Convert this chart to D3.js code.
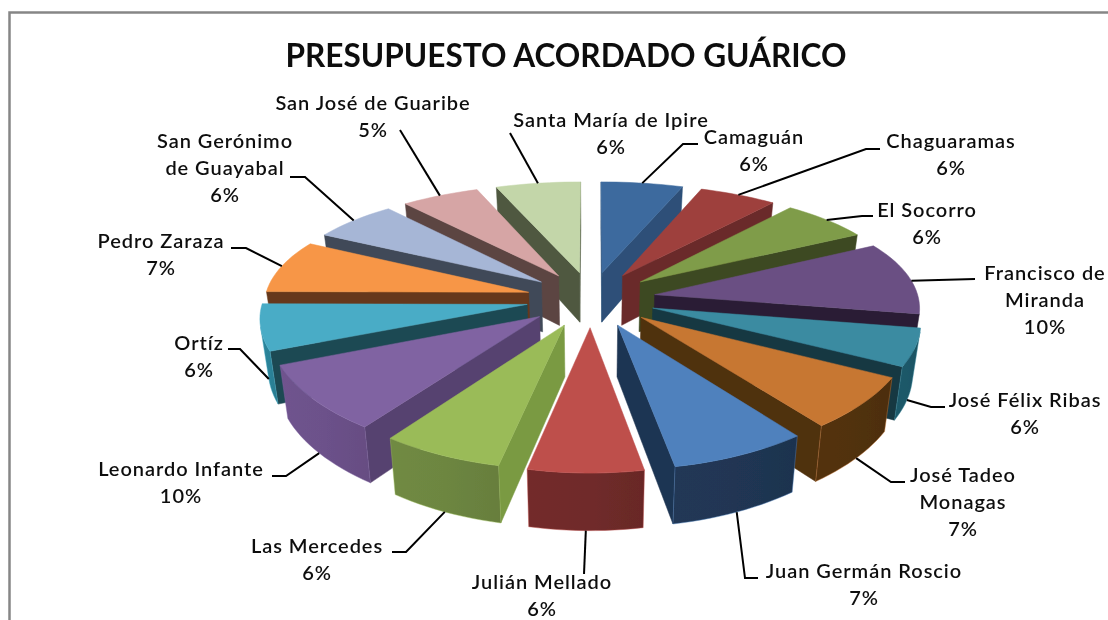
<!DOCTYPE html>
<html><head><meta charset="utf-8">
<script src="https://cdn.jsdelivr.net/npm/d3@7/dist/d3.min.js"></script>
<style>html,body{margin:0;padding:0;background:#fff;overflow:hidden}svg{display:block}
text{font-family:Lato,"Open Sans",sans-serif;fill:#111}</style></head><body>
<svg id="c" width="1108" height="620"></svg>
<script>
const title = "PRESUPUESTO ACORDADO GUÁRICO";
const municipios = ["Camaguán","Chaguaramas","El Socorro","Francisco de Miranda","José Félix Ribas","José Tadeo Monagas","Juan Germán Roscio","Julián Mellado","Las Mercedes","Leonardo Infante","Ortíz","Pedro Zaraza","San Gerónimo de Guayabal","San José de Guaribe","Santa María de Ipire"];
// printed percentages
const porcentajes = [6,6,6,10,6,7,7,6,6,10,6,7,6,5,6];
// wedge shares as they appear in the picture (3D view distorts the angles)
const presupuesto = [5.6,5.35,6.25,10.5,5.1,6.9,7.4,6.25,6.55,8.8,6.4,7.7,6,5.4,5.8];
const topColors  = ["#3D6A9E","#9E413E","#7F9C49","#6A5083","#3A8BA1","#C77732","#4F81BD","#BE4F4C","#9ABB59","#8064A2","#4AACC6","#F79646","#A6B6D6","#D6A5A5","#C3D6A9"];
const sideColors = ["#2D5078","#6A2C2A","#3D4A21","#2A1F35","#173843","#50300F","#1F3552","#7A2F2E","#7A9A43","#57426F","#1E4853","#66381A","#414A58","#5C4543","#4F5941"];
const arcColors  = ["#2D5078","#6A2C2A","#3D4A21","#2A1F35","#1E5666","#50300F","#1F3552","#6E2A29","#6B8440","#6A5088","#2A8095","#66381A","#414A58","#5C4543","#4F5941"];
const labelLines = [["Camaguán"],["Chaguaramas"],["El Socorro"],["Francisco de","Miranda"],["José Félix Ribas"],["José Tadeo","Monagas"],["Juan Germán Roscio"],["Julián Mellado"],["Las Mercedes"],["Leonardo Infante"],["Ortíz"],["Pedro Zaraza"],["San Gerónimo","de Guayabal"],["San José de Guaribe"],["Santa María de Ipire"]];
const labelX = [754,951,927,1045,1025,963,864,542,317,181,199,161,225,373,611];
const labelY = [144,148,217,280,407,482,578,589,553,476,350,248,148,110,127];
const leaderFrac = [.5,.5,.5,.55,.5,.5,.5,.5,.5,.5,.5,.5,.5,.5,.5];
const leaderRim  = [0,0,0,0,1,1,1,1,1,1,1,0,0,0,0];
const leaderBends = [[[683,144],[698,144]],[[866,149],[880,149]],[[862,216],[873,216]],[[975,279]],[[931,407],[945,407]],[[891,482],[905,482]],[[745,578],[758,578]],[[584,574]],[[406,552],[392,552]],[[286,476],[272,476]],[[240,349],[228,349]],[[246,248],[231,248]],[[305,177],[290,177]],[[400,130]],[[510,133]]];

const cx=591, cy=299, R0=264, tilt=112.6, perspY=.156, perspX=.1, explode=.245, wallH=50.5, shrink=.025;
const svg=d3.select("#c");
const defs=svg.append("defs");
defs.append("filter").attr("id","soft").attr("x",0).attr("y",0).attr("width","100%").attr("height","100%")
  .append("feGaussianBlur").attr("stdDeviation",.4);
const root=svg.append("g").attr("filter","url(#soft)");
root.append("rect").attr("width",1108).attr("height",620).attr("fill","#fff");
root.append("path").attr("d","M9.5,621V12.5H1109").attr("fill","none").attr("stroke","#868686").attr("stroke-width",2.5);
root.append("text").attr("x",566).attr("y",67).attr("text-anchor","middle").attr("font-size",31.6).attr("font-weight",700).text(title);

function P(X,Y,z){const zs=1-shrink*z;
  return [cx+R0*X/(1+perspX*Y)*zs, cy-tilt*Y/(1+perspY*Y)+z*wallH/(1+.1*Y)];}
const pie=d3.pie().sort(null).value(d=>d)(presupuesto);
const line=d3.line();
const slices=pie.map((s,i)=>{
  const m=(s.startAngle+s.endAngle)/2, ox=explode*Math.sin(m), oy=explode*Math.cos(m);
  const at=(r,a,z)=>P(ox+r*Math.sin(a),oy+r*Math.cos(a),z);
  return {i,s,m,at,depth:oy+.6*Math.cos(m)};
}).sort((a,b)=>b.depth-a.depth);
const gWalls=root.append("g");
slices.forEach(sl=>{
  const {i,s,at}=sl, g=gWalls.append("g");
  const a0=s.startAngle,a1=s.endAngle;
  const quad=(p,q)=>[p(0),q(0),q(1),p(1)];
  const apex=z=>at(0,0,z);
  [quad(apex,z=>at(1,a0,z)),quad(z=>at(1,a1,z),apex)].filter(q=>d3.polygonArea(q)>0).forEach(q=>{
    g.append("path").attr("d",line(q)+"Z").attr("fill",sideColors[i]).attr("stroke",sideColors[i]).attr("stroke-width",.5);});
  const n=Math.ceil((a1-a0)/(Math.PI/90));
  const ang=k=>a0+(a1-a0)*k/n;
  const facing=d3.range(n).filter(k=>d3.polygonArea(quad(z=>at(1,ang(k),z),z=>at(1,ang(k+1),z)))>0);
  if(facing.length){
    const ks=[...facing,facing[facing.length-1]+1];
    const poly=[...ks.map(k=>at(1,ang(k),0)),...ks.slice().reverse().map(k=>at(1,ang(k),1))];
    const xs=poly.map(p=>p[0]);
    const base=d3.color(arcColors[i]);
    const gr=defs.append("linearGradient").attr("id","arc"+i).attr("gradientUnits","userSpaceOnUse")
      .attr("x1",d3.min(xs)).attr("x2",d3.max(xs)).attr("y1",0).attr("y2",0);
    [[0,.12],[.5,.05],[1,-.12]].forEach(([o,b])=>gr.append("stop").attr("offset",o).attr("stop-color",base.brighter(b).formatHex()));
    g.append("path").attr("d",line(poly)+"Z").attr("fill",`url(#arc${i})`).attr("stroke",topColors[i]).attr("stroke-opacity",.55).attr("stroke-width",.8);
  }
  const rim=d3.range(n+1).map(k=>at(1,ang(k),0));
  g.append("path").attr("d",line([at(0,0,0),...rim])+"Z").attr("fill",topColors[i]).attr("stroke",topColors[i]).attr("stroke-width",.5);
});
const byIndex=[];slices.forEach(s=>byIndex[s.i]=s);
porcentajes.forEach((v,i)=>{
  const sl=byIndex[i],a=sl.s.startAngle+(sl.s.endAngle-sl.s.startAngle)*leaderFrac[i];
  const p=sl.at(1,a,leaderRim[i]);
  root.append("path").attr("d",line([p,...leaderBends[i]])).attr("fill","none").attr("stroke","#000").attr("stroke-width",2);
  const ls=[...labelLines[i],v+"%"];
  const t=root.append("text").attr("text-anchor","middle").attr("font-size",20).attr("font-weight",600).attr("letter-spacing",.95);
  ls.forEach((l,j)=>t.append("tspan").attr("x",labelX[i]).attr("y",labelY[i]+j*27).text(l));
});
</script></body></html>
